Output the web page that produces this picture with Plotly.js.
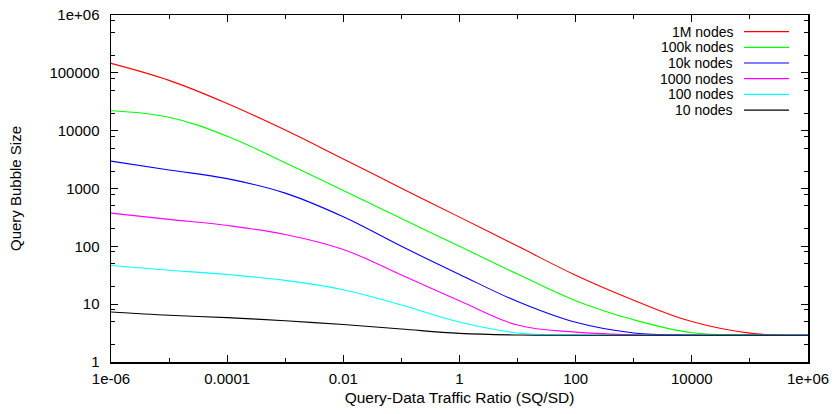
<!DOCTYPE html>
<html>
<head>
<meta charset="utf-8">
<script src="https://cdn.plot.ly/plotly-3.0.1.min.js"></script>
<style>html,body{margin:0;padding:0;background:#fff;}#chart{width:835px;height:414px;}</style>
</head>
<body>
<div id="chart"></div>
<script>
// Query-Data traffic ratio (SQ/SD), sampled at each decade
const ratio = [1e-6, 1e-5, 1e-4, 1e-3, 1e-2, 1e-1, 1, 10, 100, 1e3, 1e4, 1e5, 1e6];

// Query bubble size for each network size
const nodes1M   = [146000, 74100, 29500, 10230, 3240, 1012, 320, 101, 31.6, 11.7, 5.0, 3.16, 2.9];
const nodes100k = [22100, 17060, 8040, 2790, 923, 302, 100, 33.1, 11.5, 5.37, 3.2, 2.94, 2.9];
const nodes10k  = [2980, 2090, 1480, 832, 324, 100, 32.7, 11.1, 4.85, 3.18, 2.93, 2.9, 2.9];
const nodes1000 = [375, 292, 229, 160, 88.1, 32.0, 11.5, 4.35, 3.28, 2.96, 2.9, 2.9, 2.9];
const nodes100  = [46.6, 38.7, 32.5, 25.8, 17.8, 9.66, 4.90, 3.18, 2.94, 2.9, 2.9, 2.9, 2.9];
const nodes10   = [7.33, 6.43, 5.86, 5.16, 4.44, 3.72, 3.13, 2.93, 2.9, 2.9, 2.9, 2.9, 2.9];

const seriesNames = ['1M nodes', '100k nodes', '10k nodes', '1000 nodes', '100 nodes', '10 nodes'];
const seriesValues = [nodes1M, nodes100k, nodes10k, nodes1000, nodes100, nodes10];
const seriesColors = ['rgb(255,0,0)', 'rgb(0,255,0)', 'rgb(0,0,255)', 'rgb(255,0,255)', 'rgb(0,255,255)', 'rgb(0,0,0)'];

const xTickVals = [1e-6, 1e-4, 1e-2, 1, 100, 1e4, 1e6];
const xTickText = ['1e-06', '0.0001', '0.01', '1', '100', '10000', '1e+06'];
const xMinorVals = [1e-5, 1e-3, 1e-1, 10, 1e3, 1e5];
const yTickVals = [1, 10, 100, 1000, 1e4, 1e5, 1e6];
const yTickText = ['1', '10', '100', '1000', '10000', '100000', '1e+06'];
const yMinorMult = [2, 5, 8];

const yMinorVals = [];
for (let d = 0; d < 6; d++) {
  for (const m of yMinorMult) yMinorVals.push(m * Math.pow(10, d));
}

const W = 835, H = 414;
const M = {l: 111, r: 27, t: 15, b: 52};
const pw = W - M.l - M.r, ph = H - M.t - M.b;
const px2x = px => (px - M.l) / pw;
const py2y = py => 1 - (py - M.t) / ph;

const FONT = 'Liberation Sans, Arial, Helvetica, sans-serif';

const traces = seriesNames.map((name, i) => ({
  type: 'scatter',
  mode: 'lines',
  name: name,
  x: ratio,
  y: seriesValues[i],
  line: {color: seriesColors[i], width: 1.1, shape: 'spline', smoothing: 1.1},
  showlegend: false,
  hoverinfo: 'skip'
}));

// gnuplot-style key: right-aligned text followed by a line sample
const annotations = [];
const shapes = [];
seriesNames.forEach((name, i) => {
  const py = 31.6 + i * 15.7;
  annotations.push({
    xref: 'paper', yref: 'paper',
    x: px2x(734), y: py2y(py),
    xanchor: 'right', yanchor: 'middle',
    borderpad: 0,
    text: name, showarrow: false,
    font: {family: FONT, size: 14, color: '#000'}
  });
  shapes.push({
    type: 'line', xref: 'paper', yref: 'paper', layer: 'above',
    x0: px2x(744), x1: px2x(789), y0: py2y(py), y1: py2y(py),
    line: {color: seriesColors[i], width: 1.2}
  });
});

const axisCommon = {
  type: 'log',
  showgrid: false,
  zeroline: false,
  showline: true,
  linecolor: '#000',
  linewidth: 1.5,
  mirror: 'ticks',
  ticks: 'inside',
  ticklen: 7,
  tickwidth: 1,
  tickcolor: '#000',
  tickmode: 'array',
  tickfont: {family: FONT, size: 15, color: '#000'},
  automargin: false
};

const layout = {
  width: W, height: H,
  margin: M,
  paper_bgcolor: '#fff',
  plot_bgcolor: '#fff',
  showlegend: false,
  xaxis: Object.assign({}, axisCommon, {
    range: [-6, 6],
    tickvals: xTickVals,
    ticktext: xTickText,
    ticklabelstandoff: 2,
    minor: {tickmode: 'array', tickvals: xMinorVals, ticks: 'inside', ticklen: 4, tickwidth: 1, tickcolor: '#000', showgrid: false},
    title: {text: 'Query-Data Traffic Ratio (SQ/SD)', font: {family: FONT, size: 15.5, color: '#000'}, standoff: 6}
  }),
  yaxis: Object.assign({}, axisCommon, {
    range: [0, 6],
    tickvals: yTickVals,
    ticktext: yTickText,
    ticklabelstandoff: 7,
    minor: {tickmode: 'array', tickvals: yMinorVals, ticks: 'inside', ticklen: 4, tickwidth: 1, tickcolor: '#000', showgrid: false},
    title: {text: 'Query Bubble Size', font: {family: FONT, size: 15, color: '#000'}, standoff: 24}
  }),
  annotations: annotations,
  shapes: shapes
};

Plotly.newPlot('chart', traces, layout, {displayModeBar: false, staticPlot: true});
</script>
</body>
</html>
